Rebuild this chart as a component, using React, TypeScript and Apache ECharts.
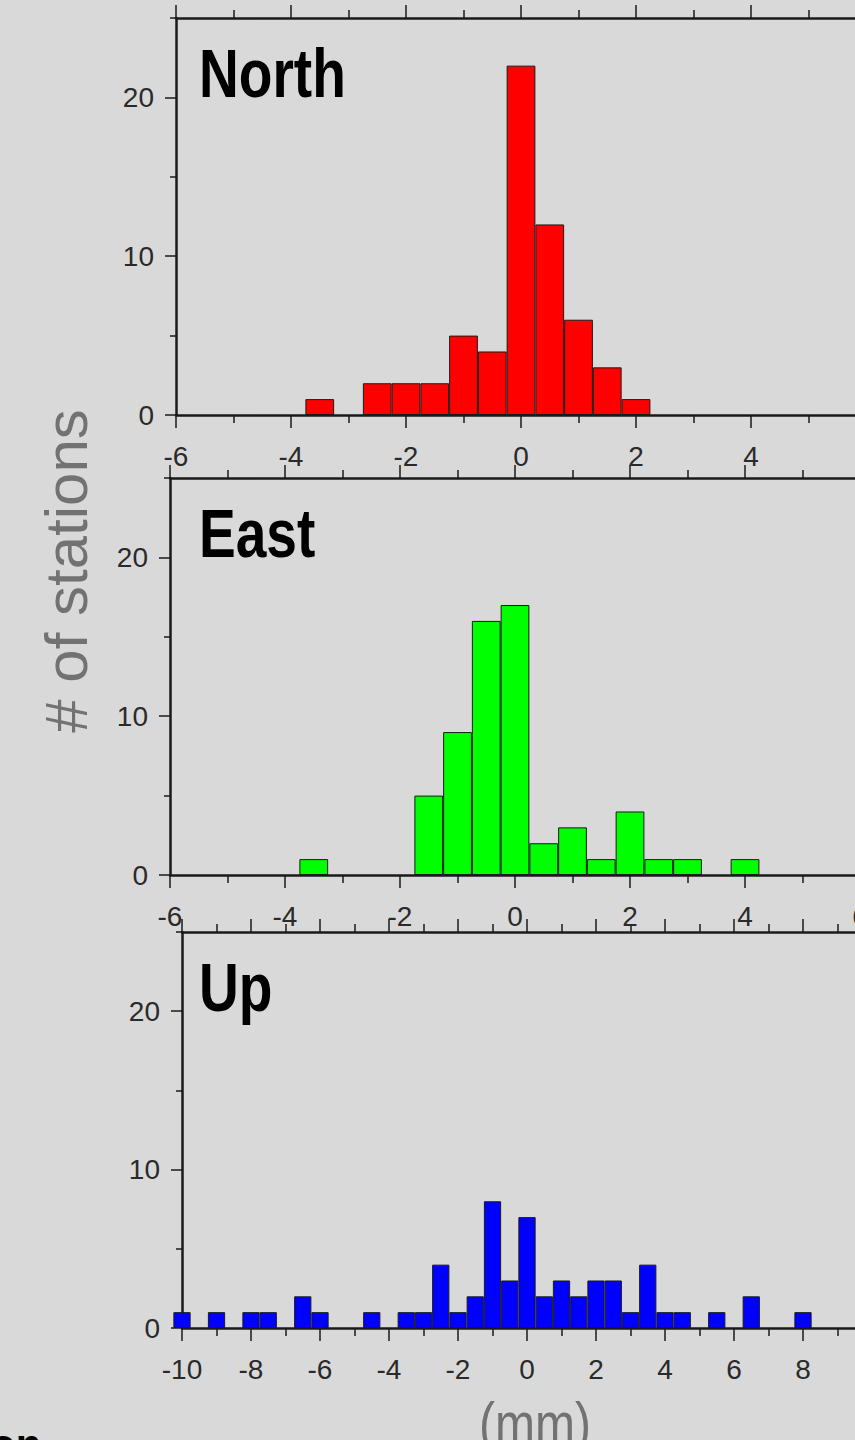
import React, { useEffect, useRef } from "react";
import * as echarts from "echarts";

// ---- data (bin centres in mm, bin width 0.5 mm) ----
const binWidth = 0.5;

const northCenters = [-3.5, -2.5, -2, -1.5, -1, -0.5, 0, 0.5, 1, 1.5, 2];
const northCounts = [1, 2, 2, 2, 5, 4, 22, 12, 6, 3, 1];

const eastCenters = [-3.5, -1.5, -1, -0.5, 0, 0.5, 1, 1.5, 2, 2.5, 3, 4];
const eastCounts = [1, 5, 9, 16, 17, 2, 3, 1, 4, 1, 1, 1];

const upCenters = [
  -10, -9, -8, -7.5, -6.5, -6, -4.5, -3.5, -3, -2.5, -2, -1.5, -1, -0.5, 0,
  0.5, 1, 1.5, 2, 2.5, 3, 3.5, 4, 4.5, 5.5, 6.5, 8,
];
const upCounts = [
  1, 1, 1, 1, 2, 1, 1, 1, 1, 4, 1, 2, 8, 3, 7, 2, 3, 2, 3, 3, 1, 4, 1, 1, 1, 2,
  1,
];

const panelNames = ["North", "East", "Up"];
const panelColors = ["#ff0000", "#00ff00", "#0000ff"];
const xRanges = [
  [-6, 6],
  [-6, 6],
  [-10, 10],
];
const yMax = 25;
const yMajorTicks = [0, 10, 20];
const yMinorTicks = [5, 15, 25];
const yAxisTitle = "# of stations";
const xAxisTitle = "(mm)";
const cornerText = "on";

const FONT = "'Liberation Sans', Arial, sans-serif";
const BG = "#d9d9d9";
const INK = "#1a1a1a";

const layouts = [
  { left: 176, top: 18, width: 690, height: 397 },
  { left: 170, top: 478, width: 690, height: 397 },
  { left: 182, top: 932, width: 690, height: 396 },
];

const App: React.FC = () => {
  const ref = useRef<HTMLDivElement>(null);

  useEffect(() => {
    if (!ref.current) return;
    const chart = echarts.init(ref.current, undefined, { renderer: "svg" });

    const panels = [
      { centers: northCenters, counts: northCounts },
      { centers: eastCenters, counts: eastCounts },
      { centers: upCenters, counts: upCounts },
    ];

    const axisLine = { show: true, onZero: false, lineStyle: { color: INK, width: 2.5 } };

    const grids = layouts.map((l) => ({ ...l, containLabel: false }));

    const xAxes: any[] = [];
    const yAxes: any[] = [];
    const series: any[] = [];
    const graphics: any[] = [];

    panels.forEach((p, i) => {
      const [xmin, xmax] = xRanges[i];
      const common = {
        type: "value",
        gridIndex: i,
        min: xmin,
        max: xmax,
        interval: 2,
        splitLine: { show: false },
        axisLine,
        axisTick: { show: true, length: 13, lineStyle: { color: INK, width: 1.5 } },
        minorTick: { show: true, splitNumber: 2, length: 8, lineStyle: { color: INK, width: 1.5 } },
      };
      xAxes.push({
        ...common,
        position: "bottom",
        axisLabel: { show: true, margin: 27, color: "#2a2a2a", fontSize: 28, fontFamily: FONT },
      });
      xAxes.push({
        ...common,
        position: "top",
        axisLabel: { show: false },
      });
      yAxes.push({
        type: "value",
        gridIndex: i,
        min: 0,
        max: yMax,
        position: "left",
        splitLine: { show: false },
        axisLine,
        axisTick: {
          show: true,
          length: 11,
          customValues: yMajorTicks,
          lineStyle: { color: INK, width: 1.5 },
        },
        axisLabel: {
          show: true,
          customValues: yMajorTicks,
          margin: 22,
          color: "#2a2a2a",
          fontSize: 28,
          fontFamily: FONT,
        },
      });
      yAxes.push({
        type: "value",
        gridIndex: i,
        min: 0,
        max: yMax,
        position: "left",
        splitLine: { show: false },
        axisLine: { show: false, onZero: false },
        axisTick: {
          show: true,
          length: 6,
          customValues: yMinorTicks,
          lineStyle: { color: INK, width: 1.5 },
        },
        axisLabel: { show: false },
      });

      const pxPerUnit = layouts[i].width / (xmax - xmin);
      series.push({
        type: "bar",
        xAxisIndex: i * 2,
        yAxisIndex: i * 2,
        barWidth: binWidth * pxPerUnit,
        clip: true,
        data: p.centers.map((c, j) => [c, p.counts[j]]),
        itemStyle: {
          color: panelColors[i],
          borderColor: INK,
          borderWidth: 1,
        },
      });

      graphics.push({
        type: "text",
        x: 199,
        y: layouts[i].top + 55,
        scaleX: 0.81,
        style: {
          text: panelNames[i],
          fontSize: 68,
          fontWeight: "bold",
          fontFamily: FONT,
          fill: "#000",
          align: "left",
          verticalAlign: "middle",
        },
      });
    });

    graphics.push({
      type: "text",
      x: 66,
      y: 571,
      rotation: Math.PI / 2,
      style: {
        text: yAxisTitle,
        fontSize: 60,
        fontFamily: FONT,
        fill: "#727272",
        align: "center",
        verticalAlign: "middle",
      },
    });
    graphics.push({
      type: "text",
      x: 535,
      y: 1424,
      scaleX: 0.8,
      style: {
        text: xAxisTitle,
        fontSize: 60,
        fontFamily: FONT,
        fill: "#727272",
        align: "center",
        verticalAlign: "middle",
      },
    });
    graphics.push({
      type: "text",
      x: -10,
      y: 1444,
      style: {
        text: cornerText,
        fontSize: 42,
        fontWeight: "bold",
        fontFamily: FONT,
        fill: "#000",
        align: "left",
        verticalAlign: "middle",
      },
    });

    chart.setOption({
      animation: false,
      backgroundColor: BG,
      grid: grids,
      xAxis: xAxes,
      yAxis: yAxes,
      series,
      graphic: graphics,
    });

    return () => chart.dispose();
  }, []);

  return (
    <div
      style={{
        position: "fixed",
        left: 0,
        top: 0,
        width: 855,
        height: 1440,
        overflow: "hidden",
        background: BG,
      }}
    >
      <div ref={ref} style={{ width: 900, height: 1480 }} />
    </div>
  );
};

export default App;
